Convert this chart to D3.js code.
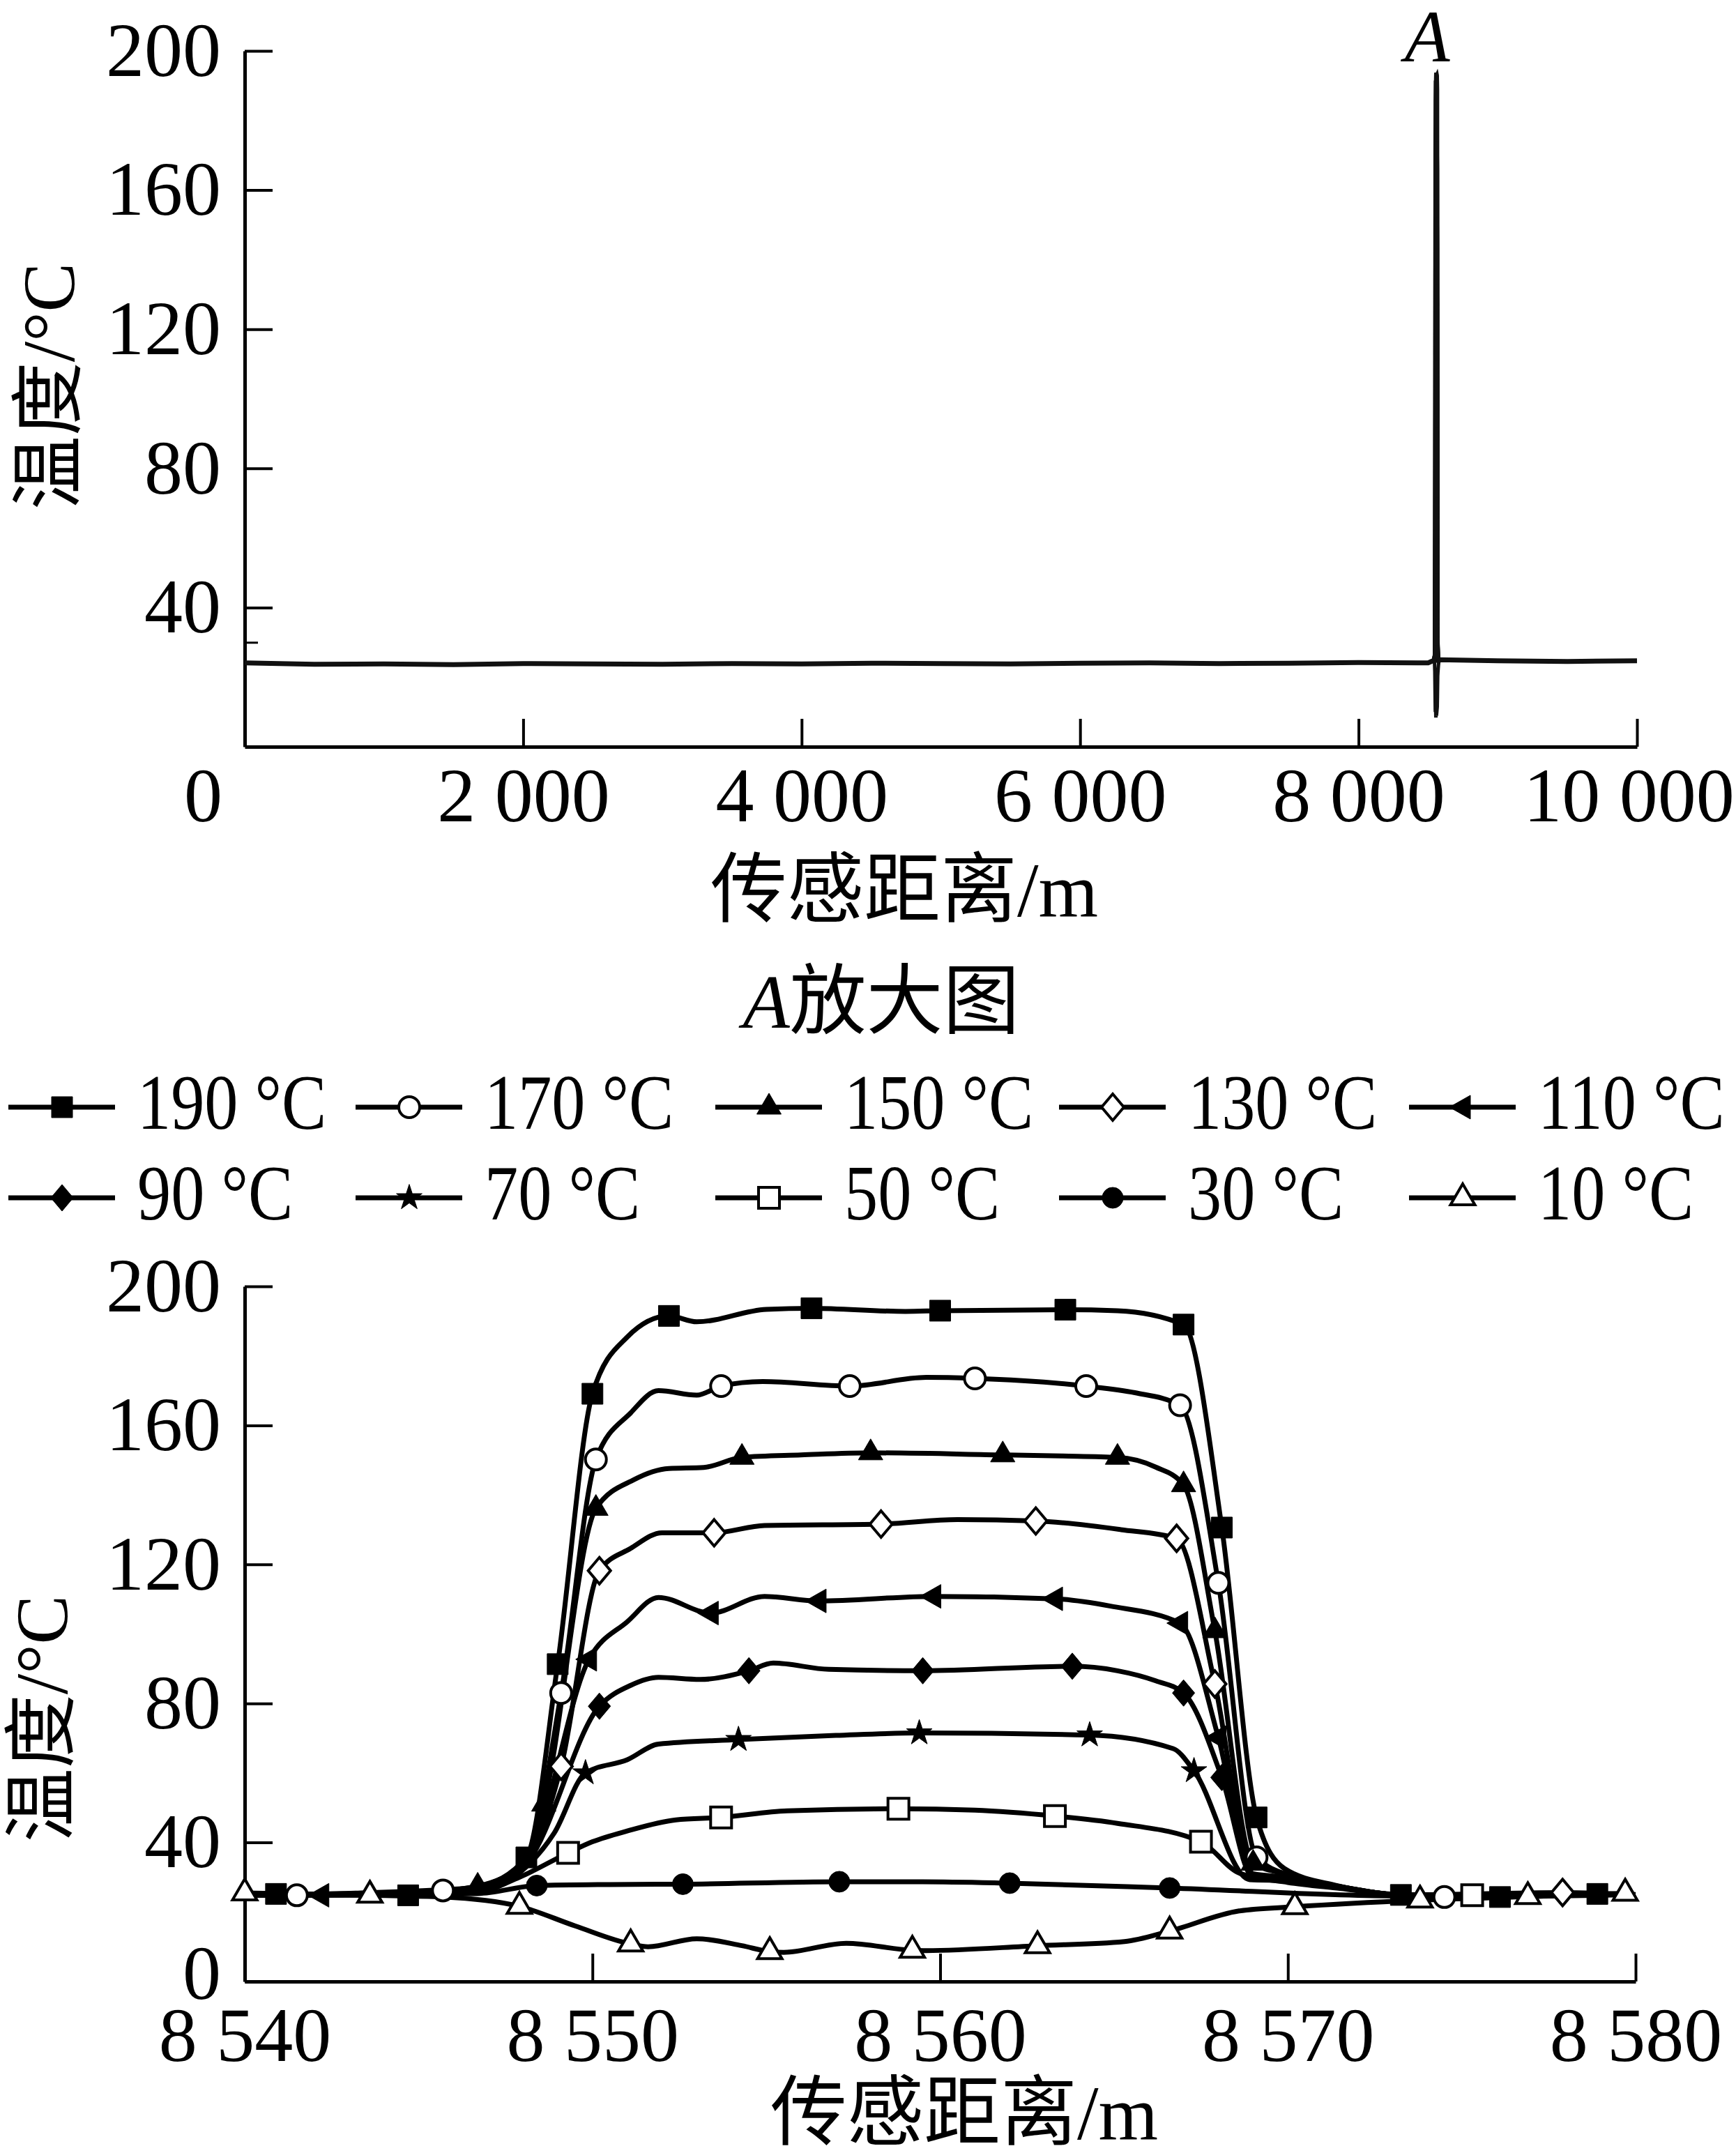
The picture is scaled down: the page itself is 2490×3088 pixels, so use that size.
<!DOCTYPE html>
<html>
<head>
<meta charset="utf-8">
<script src="https://cdn.jsdelivr.net/npm/d3@7"></script>
<style>
  body { margin: 0; background: #fff; }
</style>
</head>
<body>
<div id="chart"></div>
<script>
// ---- data ----
// overview trace (distance m, temperature C), away from the heated section
const overviewBase = [[0,24.1],[500,23.7],[1000,23.8],[1500,23.6],[2000,23.9],[2500,23.8],[3000,23.7],
  [3500,23.9],[4000,23.8],[4500,24.0],[5000,23.9],[5500,23.8],[6000,24.0],[6500,24.1],[7000,23.9],
  [7500,24.0],[8000,24.2],[8500,24.1],[8540,24.8],[8580,25.0],[9000,24.7],[9500,24.5],[10000,24.7]];
const overviewXTicks = [0, 2000, 4000, 6000, 8000, 10000];
const overviewYTicks = [40, 80, 120, 160, 200];
const zoomXTicks = [8540, 8550, 8560, 8570, 8580];
const zoomYTicks = [0, 40, 80, 120, 160, 200];

const legendLabels = ["190 °C", "170 °C", "150 °C", "130 °C", "110 °C",
                      "90 °C", "70 °C", "50 °C", "30 °C", "10 °C"];

// points carrying a marker / extra points the line bends through
const t190Marks = [[8540.9,25.2],[8544.7,24.8],[8548.1,35.7],[8549.0,91.3],[8550.0,169.1],[8552.2,191.5],
  [8556.3,193.7],[8560.0,193.0],[8563.6,193.3],[8567.0,189.0],[8568.1,130.6],[8569.1,47.2],
  [8573.25,24.9],[8576.1,24.3],[8578.9,25.2]];
const t190Bends = [[8540,25.0],[8546.7,27.2],[8551.0,185.4],[8553.0,189.8],[8555.0,193.4],[8559.0,192.8],
  [8565.1,193.0],[8569.9,32.5],[8571.4,27.6],[8580,25.0]];

const t170Marks = [[8541.5,24.8],[8545.7,26.2],[8549.1,83.0],[8550.1,150.2],[8553.7,171.3],[8557.4,171.3],
  [8561.0,173.5],[8564.2,171.3],[8566.9,165.8],[8568.0,114.7],[8569.1,35.7],[8574.5,24.3]];
const t170Bends = [[8540,24.8],[8546.7,27.4],[8548.1,35.0],[8551.1,163.6],[8551.9,170.0],[8553.0,168.7],
  [8554.9,172.6],[8559.6,173.8],[8565.6,169.4],[8570.2,30.0],[8571.5,27.0],[8573.25,24.9],[8580,25.0]];

const t150Marks = [[8546.7,27.4],[8548.6,51.0],[8550.1,136.1],[8554.3,150.8],[8558.0,152.1],[8561.8,151.5],
  [8565.1,150.8],[8567.0,142.9],[8567.9,100.9],[8569.0,34.0]];
const t150Bends = [[8540,24.8],[8544.0,24.9],[8548.1,35.0],[8551.2,144.4],[8552.2,147.6],[8553.2,147.9],
  [8556.0,151.5],[8563.5,151.2],[8566.2,148.0],[8569.9,31.0],[8571.4,27.5],[8573.25,24.9],[8580,25.0]];

const t130Marks = [[8549.1,61.9],[8550.2,118.2],[8553.5,129.1],[8558.3,131.6],[8562.75,132.5],[8566.8,127.5],
  [8567.9,85.6],[8577.9,25.6]];
const t130Bends = [[8540,24.8],[8546.7,27.0],[8548.1,35.0],[8551.1,124.6],[8552.0,129.1],[8554.95,131.2],
  [8560.5,132.9],[8565.2,130.0],[8569.0,31.0],[8570.0,30.0],[8571.5,27.3],[8573.25,24.9],[8580,25.0]];

const t110Marks = [[8542.2,24.8],[8549.9,92.7],[8553.4,106.0],[8556.5,109.5],[8559.8,110.8],[8563.3,110.1],
  [8566.9,103.1],[8568.0,70.2]];
const t110Bends = [[8540,24.8],[8546.7,26.8],[8548.1,35.0],[8551.0,103.5],[8551.9,110.5],[8554.95,110.8],
  [8564.9,108.0],[8569.0,30.0],[8570.0,29.5],[8571.5,27.2],[8573.25,24.9],[8580,25.0]];

const t90Marks = [[8550.2,79.2],[8554.5,89.4],[8559.5,89.4],[8563.8,90.7],[8567.0,83.0],[8568.1,58.7]];
const t90Bends = [[8540,24.8],[8546.7,26.5],[8548.1,34.0],[8551.1,85.2],[8551.9,87.5],[8553.1,86.9],
  [8555.2,91.6],[8556.8,89.8],[8565.1,89.4],[8566.2,86.5],[8569.0,30.0],[8570.0,29.5],[8571.5,27.2],
  [8573.25,24.9],[8580,25.0]];

const t70Marks = [[8549.8,60.0],[8554.2,69.6],[8559.4,71.5],[8564.3,70.9],[8567.3,60.6]];
const t70Bends = [[8540,24.8],[8546.7,26.3],[8548.1,33.0],[8548.9,42.7],[8551.0,63.8],[8551.9,68.3],
  [8557.0,70.8],[8566.7,67.0],[8568.9,29.3],[8570.0,29.0],[8571.5,27.2],[8573.25,24.9],[8580,25.0]];

const t50Marks = [[8549.3,37.0],[8553.7,47.2],[8558.8,49.7],[8563.3,47.6],[8567.5,40.2],[8575.3,24.8]];
const t50Bends = [[8540,24.8],[8546.7,25.8],[8547.9,30.0],[8550.0,40.2],[8551.0,43.3],[8552.4,46.5],
  [8555.6,49.1],[8561.0,49.3],[8565.1,45.5],[8568.6,31.2],[8570.0,28.5],[8571.5,26.8],[8573.25,24.9],[8580,25.0]];

const t30Marks = [[8548.4,27.6],[8552.6,28.0],[8557.1,28.7],[8562.0,28.3],[8566.6,26.9]];
const t30Bends = [[8540,24.8],[8546.7,25.3],[8550.5,27.9],[8559.5,28.7],[8573.3,24.6],[8580,25.0]];

const t10Marks = [[8540.0,25.5],[8543.6,24.8],[8547.9,21.6],[8551.1,10.8],[8555.1,8.6],[8559.2,9.0],
  [8562.8,10.3],[8566.6,14.5],[8570.2,21.5],[8573.8,23.4],[8576.9,24.4],[8579.7,25.4]];
const t10Bends = [[8545.7,24.3],[8549.5,16.0],[8551.6,10.0],[8553.0,12.3],[8554.3,10.3],[8555.5,8.4],
  [8557.3,11.0],[8559.6,8.9],[8565.3,11.5],[8568.6,20.3]];

// ---- setup ----
const W = 2490, H = 3088;
const FONT = '"Liberation Serif","Noto Sans CJK SC",serif';

const series = [
  { label: legendLabels[0], marks: t190Marks, bends: t190Bends, shape: "square",   filled: true },
  { label: legendLabels[1], marks: t170Marks, bends: t170Bends, shape: "circle",   filled: false },
  { label: legendLabels[2], marks: t150Marks, bends: t150Bends, shape: "triangle", filled: true },
  { label: legendLabels[3], marks: t130Marks, bends: t130Bends, shape: "diamond",  filled: false },
  { label: legendLabels[4], marks: t110Marks, bends: t110Bends, shape: "triLeft",  filled: true },
  { label: legendLabels[5], marks: t90Marks,  bends: t90Bends,  shape: "diamond",  filled: true },
  { label: legendLabels[6], marks: t70Marks,  bends: t70Bends,  shape: "star",     filled: true },
  { label: legendLabels[7], marks: t50Marks,  bends: t50Bends,  shape: "square",   filled: false },
  { label: legendLabels[8], marks: t30Marks,  bends: t30Bends,  shape: "circle",   filled: true },
  { label: legendLabels[9], marks: t10Marks,  bends: t10Bends,  shape: "triangle", filled: false }
];
series.forEach(s => {
  s.points = s.marks.concat(s.bends).sort((a, b) => a[0] - b[0]);
});

function markerD(shape) {
  switch (shape) {
    case "square":   return "M-15,-15H15V15H-15Z";
    case "circle":   return d3.symbol(d3.symbolCircle, Math.PI * 15 * 15)();
    case "triangle": return "M0,-20L17.5,10L-17.5,10Z";
    case "diamond":  return "M0,-19L16,0L0,19L-16,0Z";
    case "triLeft":  return "M-19,0L11,-17L11,17Z";
    case "star":     return d3.symbol(d3.symbolStar, 420)();
  }
}

function numFmt(d) {
  const s = String(d);
  return s.length > 3 ? s.slice(0, s.length - 3) + " " + s.slice(-3) : s;
}

const svg = d3.select("#chart").append("svg")
  .attr("width", W).attr("height", H)
  .style("background", "#fff");

function styleAxis(g) {
  g.attr("font-family", FONT).attr("font-size", 110);
  g.select(".domain").attr("stroke", "#000").attr("stroke-width", 5);
  g.selectAll(".tick line").attr("stroke", "#000").attr("stroke-width", 4);
  g.selectAll(".tick text").attr("fill", "#000");
}

// ---- top chart: whole fibre ----
const x1 = d3.scaleLinear().domain([0, 10000]).range([351, 2348]);
const y1 = d3.scaleLinear().domain([0, 200]).range([1071, 73]);

const gx1 = svg.append("g")
  .attr("transform", `translate(0,${y1(0)})`)
  .call(d3.axisBottom(x1).tickValues(overviewXTicks).tickFormat(numFmt)
    .tickSize(-40).tickSizeOuter(0).tickPadding(29));
styleAxis(gx1);
gx1.selectAll(".tick text").filter(d => d === 0).attr("dx", -60);
gx1.selectAll(".tick text").filter(d => d === 10000).attr("dx", -12);

const gy1 = svg.append("g")
  .attr("transform", `translate(${x1(0)},0)`)
  .call(d3.axisLeft(y1).tickValues(overviewYTicks).tickSize(-40).tickSizeOuter(0).tickPadding(34));
styleAxis(gy1);

// small extra tick near 30
const gy1m = svg.append("g")
  .attr("transform", `translate(${x1(0)},0)`)
  .call(d3.axisLeft(y1).tickValues([30]).tickSize(-19).tickFormat(""));
gy1m.select(".domain").remove();
gy1m.selectAll(".tick line").attr("stroke", "#000").attr("stroke-width", 3);

const line1 = d3.line().x(d => x1(d[0])).y(d => y1(d[1]));
svg.append("path")
  .attr("d", line1(overviewBase))
  .attr("fill", "none").attr("stroke", "#111").attr("stroke-width", 7);
series.forEach(s => {
  svg.append("path")
    .attr("d", line1(s.points))
    .attr("fill", "none").attr("stroke", "#111").attr("stroke-width", 5);
});

svg.append("text")
  .attr("x", 2047).attr("y", 88)
  .attr("text-anchor", "middle")
  .attr("font-family", FONT).attr("font-style", "italic").attr("font-size", 106)
  .text("A");

svg.append("text")
  .attr("transform", "translate(70,554) rotate(-90)")
  .attr("text-anchor", "middle").attr("dominant-baseline", "central")
  .attr("font-family", FONT).attr("font-size", 106)
  .text("温度/°C");

svg.append("text")
  .attr("x", 1297).attr("y", 1314)
  .attr("text-anchor", "middle")
  .attr("font-family", FONT).attr("font-size", 110)
  .text("传感距离/m");

// ---- title of the zoomed chart ----
const title = svg.append("text")
  .attr("x", 1264).attr("y", 1474)
  .attr("text-anchor", "middle")
  .attr("font-family", FONT).attr("font-size", 110);
title.append("tspan").attr("font-style", "italic").text("A");
title.append("tspan").text("放大图");

// ---- legend ----
const legendCols = [12, 510, 1026, 1519, 2021];
const legendRows = [1588, 1718];

function drawMarker(g, s) {
  g.append("path")
    .attr("d", markerD(s.shape))
    .attr("fill", s.filled ? "#000" : "#fff")
    .attr("stroke", "#000")
    .attr("stroke-width", s.filled ? 1 : 4);
}

series.forEach((s, i) => {
  const g = svg.append("g")
    .attr("transform", `translate(${legendCols[i % 5]},${legendRows[Math.floor(i / 5)]})`);
  g.append("line")
    .attr("x1", 0).attr("x2", 153).attr("y1", 0).attr("y2", 0)
    .attr("stroke", "#000").attr("stroke-width", 7);
  drawMarker(g.append("g").attr("transform", "translate(77,0)"), s);
  g.append("text")
    .attr("transform", "translate(185,31) scale(0.86,1)")
    .attr("font-family", FONT).attr("font-size", 112)
    .text(s.label);
});

// ---- bottom chart: zoom on A ----
const x2 = d3.scaleLinear().domain([8540, 8580]).range([351, 2346]);
const y2 = d3.scaleLinear().domain([0, 200]).range([2842, 1845]);

const gx2 = svg.append("g")
  .attr("transform", `translate(0,${y2(0)})`)
  .call(d3.axisBottom(x2).tickValues(zoomXTicks).tickFormat(numFmt)
    .tickSize(-40).tickSizeOuter(0).tickPadding(36));
styleAxis(gx2);

const gy2 = svg.append("g")
  .attr("transform", `translate(${x2(8540)},0)`)
  .call(d3.axisLeft(y2).tickValues(zoomYTicks).tickSize(-40).tickSizeOuter(0).tickPadding(34));
styleAxis(gy2);
gy2.selectAll(".tick text").filter(d => d === 0).attr("dy", "0.22em");

const line2 = d3.line().x(d => x2(d[0])).y(d => y2(d[1])).curve(d3.curveMonotoneX);
series.forEach(s => {
  svg.append("path")
    .attr("d", line2(s.points))
    .attr("fill", "none").attr("stroke", "#000")
    .attr("stroke-width", 7).attr("stroke-linejoin", "round");
});
series.forEach(s => {
  svg.append("g").selectAll("g")
    .data(s.marks)
    .join("g")
    .attr("transform", d => `translate(${x2(d[0])},${y2(d[1])})`)
    .each(function () { drawMarker(d3.select(this), s); });
});

svg.append("text")
  .attr("transform", "translate(60,2465) rotate(-90)")
  .attr("text-anchor", "middle").attr("dominant-baseline", "central")
  .attr("font-family", FONT).attr("font-size", 106)
  .text("温度/°C");

svg.append("text")
  .attr("x", 1383).attr("y", 3068)
  .attr("text-anchor", "middle")
  .attr("font-family", FONT).attr("font-size", 110)
  .text("传感距离/m");
</script>
</body>
</html>
